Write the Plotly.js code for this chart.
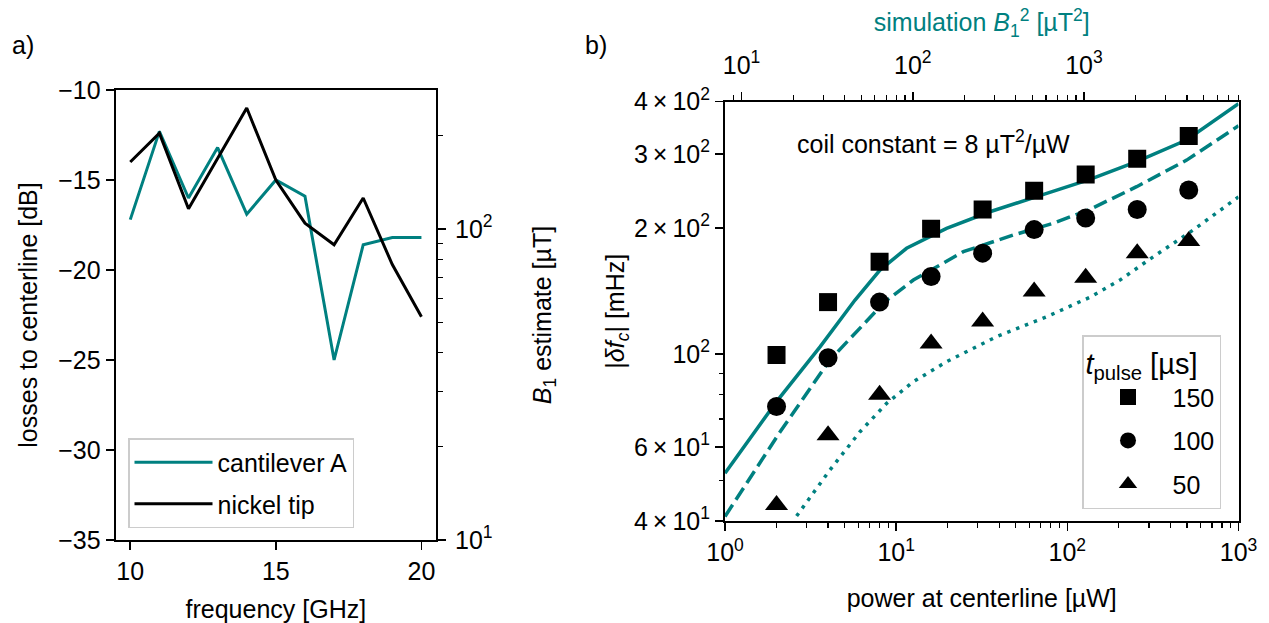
<!DOCTYPE html>
<html>
<head>
<meta charset="utf-8">
<script src="https://cdn.plot.ly/plotly-3.0.1.min.js"></script>
<style>
  html, body { margin: 0; padding: 0; background: #ffffff; }
  #chart { width: 1269px; height: 623px; }
</style>
</head>
<body>
<div id="chart"></div>
<script>
// ---------- panel a data ----------
const freqGHz = [10, 11, 12, 13, 14, 15, 16, 17, 18, 19, 20];
const lossCantileverA = [-17.2, -12.3, -16.0, -13.2, -16.9, -15.0, -15.9, -25.0, -18.6, -18.2, -18.2];
const lossNickelTip = [-14.0, -12.4, -16.6, -13.8, -11.0, -15.0, -17.4, -18.6, -16.0, -19.7, -22.6];
const b1TickVals = [10, 100];
const b1TickText = ['10<sup>1</sup>', '10<sup>2</sup>'];
const b1MinorVals = [20, 30, 40, 50, 60, 70, 80, 90, 200];

// ---------- panel b data ----------
const powerUW = [2, 4, 8, 16, 32, 64, 128, 256, 512];
const shift150 = [99.5, 133, 166, 199, 221, 245, 268, 292, 331];
const shift100 = [75, 98, 133, 153, 174, 198, 211, 221, 246];
const shift50 = [43.7, 64, 80, 106, 119.5, 141, 152, 174, 186];

const simPowerSolid = [1, 2.0, 3.59, 5.75, 8.04, 11.5, 19.7, 35.3, 66.2, 135.5, 254, 497, 1000];
const simSolid = [52.0, 77.0, 104, 134.5, 158.6, 178.7, 199.4, 218.4, 237.2, 260.9, 287.4, 323.7, 395];
const simPowerDashed = [1, 2.1, 4.1, 8.6, 12.6, 24.7, 48.3, 82.7, 135.5, 254, 498, 1000];
const simDashed = [41, 65.3, 96.8, 133.3, 150.1, 175.4, 192.2, 205, 221.3, 250.6, 290, 350];
const simPowerDotted = [2.62, 4.1, 6.15, 8.8, 12.6, 19.7, 38.6, 75.7, 135.5, 203, 318, 544, 1000];
const simDotted = [41.1, 52.9, 65.3, 76.3, 85.9, 95.9, 110, 122.7, 136.6, 150.1, 170.6, 197.6, 237];

const pulseLabels = ['150', '100', '50'];
const pulseSymbols = ['square', 'circle', 'triangle-up'];

const powerTickVals = [1, 10, 100, 1000];
const powerTickText = ['10<sup>0</sup>', '10<sup>1</sup>', '10<sup>2</sup>', '10<sup>3</sup>'];
const powerMinorVals = [2,3,4,5,6,7,8,9,20,30,40,50,60,70,80,90,200,300,400,500,600,700,800,900];
const coilConstant = 8; // µT^2 / µW
const simTickVals = [10, 100, 1000];
const simTickText = ['10<sup>1</sup>', '10<sup>2</sup>', '10<sup>3</sup>'];
const simMinorVals = [9,20,30,40,50,60,70,80,90,200,300,400,500,600,700,800,900,2000,3000,4000,5000,6000,7000,8000];
const shiftTickVals = [40, 60, 100, 200, 300, 400];
const shiftTickText = ['4\u2009\u00d7\u200910<sup>1</sup>', '6\u2009\u00d7\u200910<sup>1</sup>', '10<sup>2</sup>',
                       '2\u2009\u00d7\u200910<sup>2</sup>', '3\u2009\u00d7\u200910<sup>2</sup>', '4\u2009\u00d7\u200910<sup>2</sup>'];
const shiftMinorVals = [50, 70, 80, 90];

// ---------- styling ----------
const TEAL = '#008080';
const FONT = 'Liberation Sans, Arial, Helvetica, sans-serif';
const FS = 25;
const W = 1269, H = 623;
const px = v => v / W;
const py = v => 1 - v / H;

const axisBase = {
  showline: true, linecolor: '#000', linewidth: 2,
  ticks: 'outside', ticklen: 8, tickwidth: 1.6, tickcolor: '#000',
  showgrid: false, zeroline: false,
  tickfont: {family: FONT, size: FS, color: '#000'},
  automargin: false
};
const minorBase = {ticks: 'outside', ticklen: 4.5, tickwidth: 1.2, tickcolor: '#000', showgrid: false};

const traces = [
  {x: freqGHz, y: lossCantileverA, xaxis: 'x', yaxis: 'y', type: 'scatter', mode: 'lines',
   name: 'cantilever A', line: {color: TEAL, width: 3}, legend: 'legend', legendgroup: 'a1'},
  {x: freqGHz, y: lossNickelTip, xaxis: 'x', yaxis: 'y', type: 'scatter', mode: 'lines',
   name: 'nickel tip', line: {color: '#000', width: 3}, legend: 'legend', legendgroup: 'a2'},
  {x: [], y: [], xaxis: 'x', yaxis: 'y2', type: 'scatter', mode: 'lines', showlegend: false, hoverinfo: 'skip'},
  {x: simPowerSolid, y: simSolid, xaxis: 'x3', yaxis: 'y3', type: 'scatter', mode: 'lines',
   line: {color: TEAL, width: 3.5}, showlegend: false},
  {x: simPowerDashed, y: simDashed, xaxis: 'x3', yaxis: 'y3', type: 'scatter', mode: 'lines',
   line: {color: TEAL, width: 3.5, dash: '14px,6px'}, showlegend: false},
  {x: simPowerDotted, y: simDotted, xaxis: 'x3', yaxis: 'y3', type: 'scatter', mode: 'lines',
   line: {color: TEAL, width: 3.5, dash: '3.5px,6px'}, showlegend: false},
  {x: [], y: [], xaxis: 'x4', yaxis: 'y3', type: 'scatter', mode: 'markers',
   showlegend: false, hoverinfo: 'skip'}
];
const shiftSeries = [shift150, shift100, shift50];
const markerSizes = [18, 19, 20];
shiftSeries.forEach((s, i) => {
  traces.push({x: powerUW, y: s, xaxis: 'x3', yaxis: 'y3', type: 'scatter', mode: 'markers',
    name: pulseLabels[i], marker: {symbol: pulseSymbols[i], size: markerSizes[i], color: '#000'},
    legend: 'legend2', legendgroup: 'b' + i});
});

const layout = {
  width: W, height: H,
  margin: {l: 0, r: 0, t: 0, b: 0},
  paper_bgcolor: '#fff', plot_bgcolor: '#fff',
  font: {family: FONT, size: FS, color: '#000'},
  xaxis: Object.assign({}, axisBase, {
    domain: [px(115.7), px(436)], range: [9.5, 20.5], anchor: 'y',
    tickvals: [10, 15, 20], mirror: true,
    title: {text: 'frequency [GHz]', font: {family: FONT, size: FS}}
  }),
  yaxis: Object.assign({}, axisBase, {
    domain: [1 - 540 / H, 1 - 90 / H], range: [-35, -10], anchor: 'x', dtick: 5,
    title: {text: 'losses to centerline [dB]', font: {family: FONT, size: FS}, standoff: 14}
  }),
  yaxis2: Object.assign({}, axisBase, {
    overlaying: 'y', side: 'right', anchor: 'x', type: 'log', range: [1, 2.448],
    tickmode: 'array', tickvals: b1TickVals, ticktext: b1TickText, ticklabelstandoff: 4,
    minor: Object.assign({}, minorBase, {tickmode: 'array', tickvals: b1MinorVals}),
    title: {text: '<i>B</i><sub>1</sub> estimate [µT]', font: {family: FONT, size: FS}, standoff: 42}
  }),
  xaxis3: Object.assign({}, axisBase, {
    domain: [px(725), px(1238.5)], type: 'log', range: [0, 3], anchor: 'y3',
    tickmode: 'array', tickvals: powerTickVals, ticktext: powerTickText,
    minor: Object.assign({}, minorBase, {tickmode: 'array', tickvals: powerMinorVals}),
    title: {text: 'power at centerline [µW]', font: {family: FONT, size: FS}}
  }),
  xaxis4: Object.assign({}, axisBase, {
    overlaying: 'x3', side: 'top', anchor: 'y3', type: 'log',
    range: [Math.log10(coilConstant), Math.log10(1000 * coilConstant)],
    tickmode: 'array', tickvals: simTickVals, ticktext: simTickText, ticklabelstandoff: 8,
    minor: Object.assign({}, minorBase, {tickmode: 'array', tickvals: simMinorVals}),
    title: {text: 'simulation <i>B</i><sub>1</sub><sup>2</sup> [µT<sup>2</sup>]', font: {family: FONT, size: FS, color: TEAL}, standoff: 8}
  }),
  yaxis3: Object.assign({}, axisBase, {
    domain: [1 - 521 / H, 1 - 101.5 / H], type: 'log', range: [Math.log10(40), Math.log10(400)], anchor: 'x3',
    mirror: true,
    tickmode: 'array', tickvals: shiftTickVals, ticktext: shiftTickText,
    minor: Object.assign({}, minorBase, {tickmode: 'array', tickvals: shiftMinorVals}),
    title: {text: '|<i>δf</i><sub><i>c</i></sub>| [mHz]', font: {family: FONT, size: FS}, standoff: 2}
  }),
  legend: {
    x: px(128), y: py(438), xanchor: 'left', yanchor: 'top',
    bgcolor: 'rgba(255,255,255,0.85)', bordercolor: '#cccccc', borderwidth: 1.5,
    font: {family: FONT, size: FS}, tracegroupgap: 6, itemwidth: 78
  },
  legend2: {
    x: px(1082), y: py(335), xanchor: 'left', yanchor: 'top',
    bgcolor: 'rgba(255,255,255,0.85)', bordercolor: '#cccccc', borderwidth: 1.5,
    font: {family: FONT, size: FS}, tracegroupgap: 8, itemwidth: 79, indentation: 0,
    title: {text: '<i>t</i><sub>pulse</sub> [µs]', side: 'top', font: {family: FONT, size: 29}}
  },
  annotations: [
    {text: 'a)', xref: 'paper', yref: 'paper', x: px(10), y: py(45), xanchor: 'left', yanchor: 'middle',
     showarrow: false, font: {family: FONT, size: FS}},
    {text: 'b)', xref: 'paper', yref: 'paper', x: px(583), y: py(45), xanchor: 'left', yanchor: 'middle',
     showarrow: false, font: {family: FONT, size: FS}},
    {text: 'coil constant = ' + coilConstant + ' µT<sup>2</sup>/µW', xref: 'paper', yref: 'paper',
     x: px(934), y: py(142), xanchor: 'center', yanchor: 'middle', showarrow: false,
     font: {family: FONT, size: FS}}
  ]
};

Plotly.newPlot('chart', traces, layout, {displayModeBar: false, staticPlot: true});
</script>
</body>
</html>
